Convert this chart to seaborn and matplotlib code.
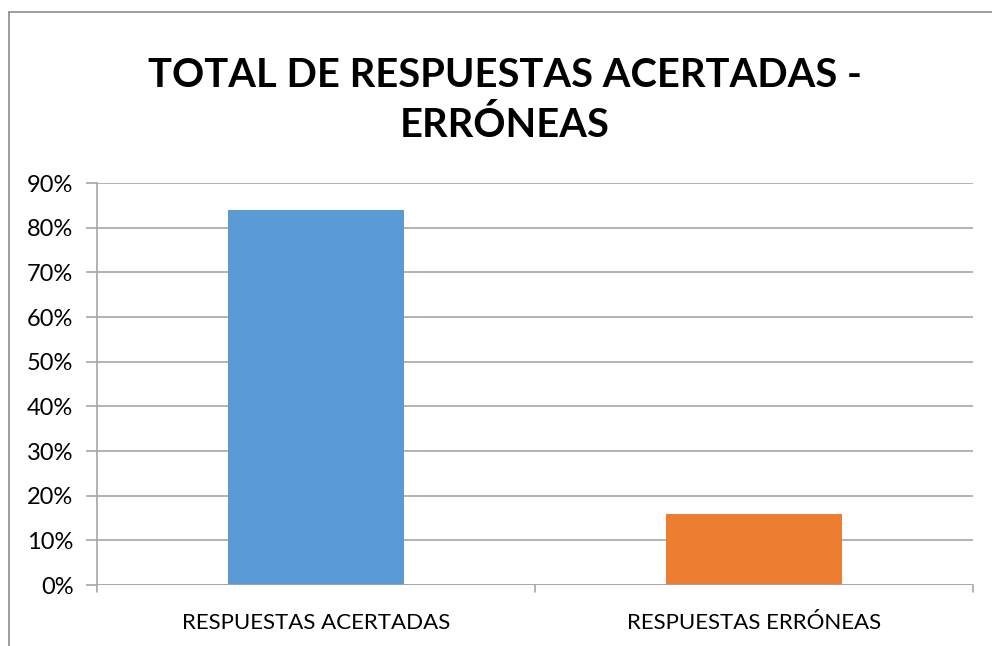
import matplotlib
matplotlib.use("Agg")
import matplotlib.pyplot as plt
from matplotlib.lines import Line2D
from matplotlib.ticker import PercentFormatter, MultipleLocator
import seaborn as sns
import pandas as pd

categorias = ["RESPUESTAS ACERTADAS", "RESPUESTAS ERRÓNEAS"]
porcentajes = [84, 16]
colores = ["#5B9BD5", "#ED7D31"]
titulo = "TOTAL DE RESPUESTAS ACERTADAS -\nERRÓNEAS"

sns.set_theme(style="white")
plt.rcParams["font.family"] = ["Lato", "DejaVu Sans"]

df = pd.DataFrame({"categoria": categorias, "valor": porcentajes})

fig = plt.figure(figsize=(9.92, 6.46), dpi=100)
ax = fig.add_axes([0.0978, 0.0944, 0.883, 0.622])

sns.barplot(data=df, x="categoria", y="valor", hue="categoria",
            palette=colores, width=0.4, saturation=1, linewidth=0,
            legend=False, ax=ax, zorder=3)

ax.set_ylim(0, 90)
ax.yaxis.set_major_locator(MultipleLocator(10))
ax.yaxis.set_major_formatter(PercentFormatter(decimals=0))
ax.grid(axis="y", color="#A6A6A6", linewidth=1.2, zorder=0)
ax.set_xlim(-0.5, 1.5)
ax.set_xlabel("")
ax.set_ylabel("")

for side in ["top", "right", "bottom"]:
    ax.spines[side].set_visible(False)
ax.spines["left"].set_color("#A6A6A6")
ax.spines["left"].set_linewidth(1.2)
ax.axhline(0, color="#A6A6A6", linewidth=1.2, zorder=4)

ax.tick_params(axis="y", length=8, color="#A6A6A6", width=1.2, labelsize=17,
               labelcolor="black", left=True, pad=9)
ax.tick_params(axis="x", length=0, labelsize=16, labelcolor="black", pad=20)

# category separators below the baseline
for xb in [-0.5, 0.5, 1.5]:
    ax.plot([xb, xb], [0, -1.6], color="#A6A6A6", linewidth=1.2,
            clip_on=False, zorder=4)

fig.text(0.509, 0.845, titulo, ha="center", va="center", fontsize=28.7,
         fontweight="bold", color="black", linespacing=1.38)

# chart frame
fig.add_artist(Line2D([0.0095, 0.0095], [0, 0.9815], color="#8C8C8C", linewidth=1.2))
fig.add_artist(Line2D([0.0095, 1.0], [0.9815, 0.9815], color="#8C8C8C", linewidth=1.2))

fig.savefig("out.png", dpi=100)
